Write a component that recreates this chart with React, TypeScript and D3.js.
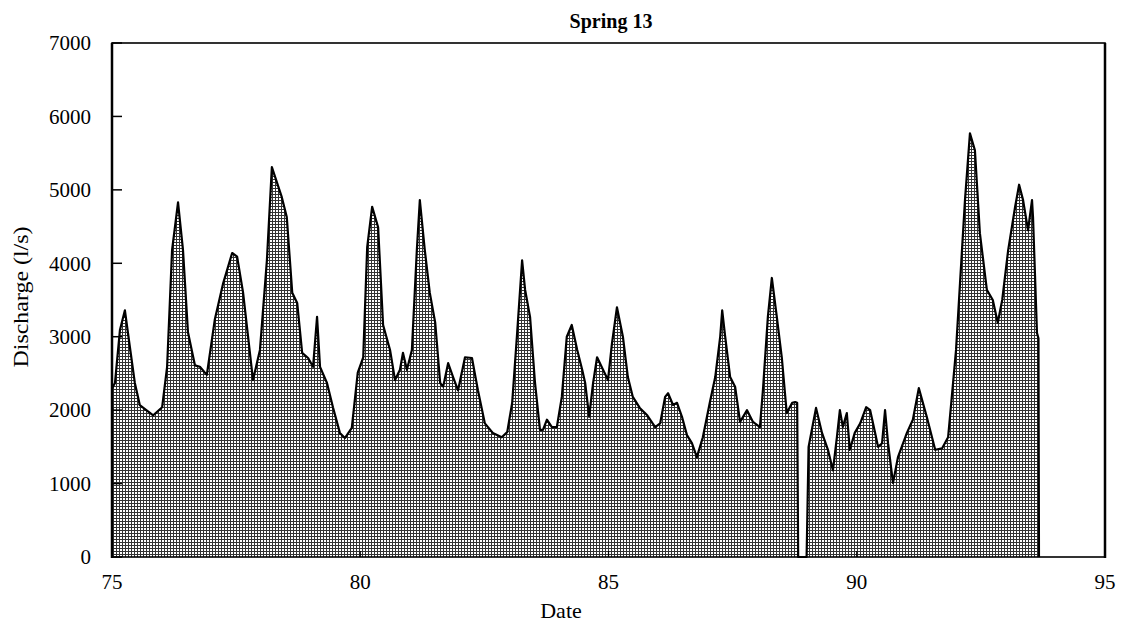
import React from "react";
import * as d3 from "d3";

const title = "Spring 13";
const xLabel = "Date";
const yLabel = "Discharge (l/s)";
const xTicks = [75, 80, 85, 90, 95];
const yTicks = [0, 1000, 2000, 3000, 4000, 5000, 6000, 7000];

const years = [
  75.0, 75.06, 75.16, 75.26, 75.36, 75.46, 75.56, 75.83, 76.01, 76.11, 76.21, 76.33, 76.43, 76.53,
  76.67, 76.77, 76.91, 77.07, 77.24, 77.42, 77.52, 77.64, 77.84, 77.98, 78.12, 78.22, 78.42, 78.52,
  78.63, 78.73, 78.83, 78.95, 79.05, 79.13, 79.19, 79.33, 79.45, 79.59, 79.69, 79.83, 79.95, 80.06,
  80.14, 80.24, 80.36, 80.46, 80.6, 80.7, 80.8, 80.86, 80.94, 81.04, 81.14, 81.2, 81.3, 81.4, 81.51,
  81.61, 81.67, 81.77, 81.87, 81.97, 82.11, 82.25, 82.37, 82.51, 82.67, 82.85, 82.96, 83.06, 83.16,
  83.26, 83.32, 83.42, 83.52, 83.62, 83.68, 83.76, 83.86, 83.96, 84.06, 84.16, 84.26, 84.37, 84.47,
  84.53, 84.61, 84.69, 84.77, 84.89, 84.99, 85.07, 85.17, 85.29, 85.39, 85.49, 85.63, 85.78, 85.94,
  86.04, 86.14, 86.2, 86.3, 86.38, 86.48, 86.58, 86.68, 86.78, 86.9, 87.04, 87.15, 87.25, 87.29,
  87.35, 87.45, 87.55, 87.65, 87.79, 87.91, 88.05, 88.11, 88.21, 88.29, 88.39, 88.49, 88.59, 88.7,
  88.76, 88.8, 88.82, 88.99, 89.03, 89.12, 89.18, 89.3, 89.42, 89.52, 89.6, 89.66, 89.72, 89.8,
  89.86, 89.96, 90.07, 90.19, 90.27, 90.37, 90.43, 90.51, 90.57, 90.63, 90.73, 90.83, 91.01, 91.13,
  91.25, 91.41, 91.58, 91.72, 91.84, 91.94, 92.0, 92.08, 92.18, 92.28, 92.38, 92.48, 92.62, 92.74,
  92.84, 92.93, 93.05, 93.19, 93.27, 93.35, 93.45, 93.53, 93.55, 93.63, 93.66, 93.67,
];

const discharge = [
  2300, 2370, 3090, 3360, 2860, 2370, 2070, 1930, 2040, 2590, 4180, 4830, 4180, 3060,
  2610, 2590, 2480, 3230, 3730, 4140, 4090, 3600, 2410, 2820, 4040, 5310, 4900, 4630,
  3600, 3460, 2780, 2710, 2590, 3270, 2590, 2370, 2040, 1690, 1620, 1760, 2510, 2720,
  4220, 4770, 4490, 3160, 2820, 2410, 2550, 2780, 2550, 2820, 4180, 4860, 4180, 3600, 3190,
  2370, 2320, 2640, 2450, 2270, 2720, 2710, 2270, 1820, 1690, 1630, 1700, 2100, 3050,
  4040, 3640, 3270, 2370, 1730, 1730, 1870, 1770, 1770, 2180, 3000, 3160, 2820, 2550,
  2370, 1910, 2370, 2720, 2550, 2410, 2910, 3400, 3000, 2450, 2180, 2030, 1930, 1770,
  1820, 2180, 2230, 2070, 2100, 1910, 1660, 1550, 1360, 1630, 2100, 2450, 3000, 3360,
  3000, 2450, 2320, 1840, 2000, 1840, 1770, 2270, 3270, 3800, 3270, 2720, 1960, 2100,
  2110, 2100, 0, 0, 1500, 1820, 2030, 1690, 1460, 1180, 1630, 2000, 1770, 1960,
  1460, 1690, 1820, 2040, 2000, 1690, 1500, 1550, 2000, 1550, 1010, 1360, 1690, 1870,
  2300, 1910, 1460, 1480, 1630, 2370, 2820, 3730, 4860, 5770, 5540, 4410, 3640, 3500,
  3190, 3500, 4180, 4770, 5070, 4860, 4450, 4860, 4630, 3050, 2980, 0,
];

const W = 1121;
const H = 625;

export default function App() {
  const x = d3.scaleLinear().domain([75, 95]).range([112, 1105]);
  const y = d3.scaleLinear().domain([0, 7000]).range([557, 43]);
  const pts = years.map((yr, i) => [yr, discharge[i]] as [number, number]);
  const area = d3
    .area<[number, number]>()
    .x((d) => x(d[0]))
    .y0(y(0))
    .y1((d) => y(d[1]));
  const line = d3
    .line<[number, number]>()
    .x((d) => x(d[0]))
    .y((d) => y(d[1]));
  const font = "'Liberation Serif', 'Times New Roman', serif";
  return (
    <svg
      width={W}
      height={H}
      style={{ position: "absolute", left: 0, top: 0, background: "#fff" }}
      fontFamily={font}
    >
      <defs>
        <pattern id="stip" width={3} height={3} patternUnits="userSpaceOnUse">
          <rect width={3} height={3} fill="#fff" />
          <rect x={0} y={2} width={3} height={1} fill="#333" />
          <rect x={2} y={0} width={1} height={3} fill="#333" />
        </pattern>
      </defs>
      <text x={611} y={28} textAnchor="middle" fontSize={20} fontWeight="bold">
        {title}
      </text>
      <path d={area(pts) || ""} fill="url(#stip)" />
      <path d={line(pts) || ""} fill="none" stroke="#000" strokeWidth={2.2} strokeLinejoin="round" />
      <rect
        x={112}
        y={43}
        width={1105 - 112}
        height={557 - 43}
        fill="none"
        stroke="#000"
        strokeWidth={1.6}
      />
      <line x1={112} x2={112} y1={43} y2={558} stroke="#000" strokeWidth={2.5} />
      <line x1={1105} x2={1105} y1={43} y2={558} stroke="#000" strokeWidth={2.5} />
      {yTicks.map((t) => (
        <g key={t}>
          <line x1={112} x2={122} y1={y(t)} y2={y(t)} stroke="#000" strokeWidth={1.5} />
          <text x={91} y={y(t)} dy="0.35em" textAnchor="end" fontSize={21}>
            {t}
          </text>
        </g>
      ))}
      {xTicks.map((t) => (
        <g key={t}>
          <line x1={x(t)} x2={x(t)} y1={557} y2={551} stroke="#000" strokeWidth={1.2} />
          <text x={x(t)} y={582} dy="0.35em" textAnchor="middle" fontSize={21}>
            {t}
          </text>
        </g>
      ))}
      <text x={561} y={618} textAnchor="middle" fontSize={22}>
        {xLabel}
      </text>
      <text
        transform="translate(28,297) rotate(-90)"
        textAnchor="middle"
        fontSize={22}
        textLength={141}
        lengthAdjust="spacingAndGlyphs"
      >
        {yLabel}
      </text>
    </svg>
  );
}
